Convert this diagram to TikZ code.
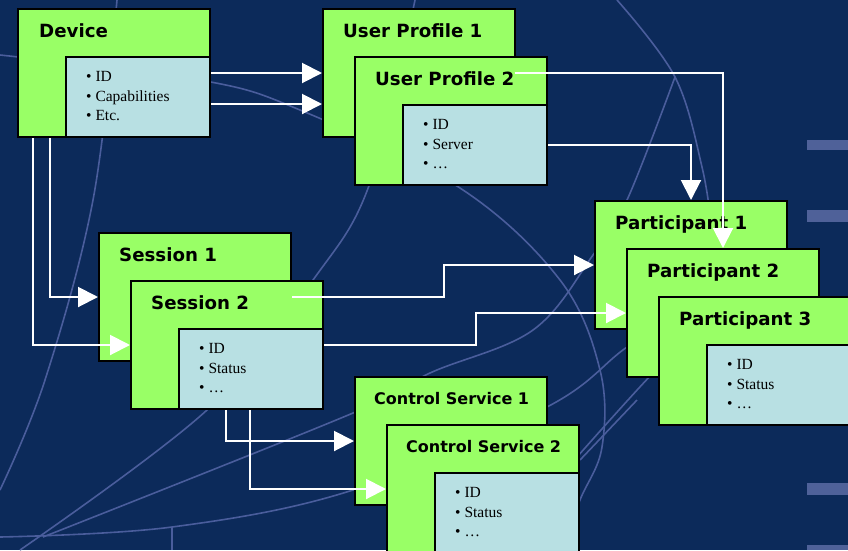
\documentclass[tikz,border=0pt]{standalone}
\usepackage{fontspec}
\setmainfont{Liberation Serif}
\setsansfont{DejaVu Sans}
\usetikzlibrary{positioning,arrows.meta}

\definecolor{navy}{HTML}{0C2A5A}
\definecolor{boxgreen}{HTML}{99FF66}
\definecolor{boxblue}{HTML}{B8E0E3}
\definecolor{faint}{HTML}{4A5D9C}
\definecolor{logo}{HTML}{4F6199}

\begin{document}
\begin{tikzpicture}[x=1pt,y=-1pt,
  entity/.style={draw=black,line width=2pt,fill=boxgreen,minimum width=192pt,
    minimum height=128pt,anchor=north west,inner sep=0pt},
  fields/.style={draw=black,line width=2pt,fill=boxblue,minimum width=144pt,
    minimum height=80pt,anchor=south east,inner sep=0pt},
  title/.style={anchor=base west,inner sep=0pt,
    font=\sffamily\bfseries\fontsize{18.2}{20}\selectfont},
  small title/.style={title,font=\sffamily\bfseries\fontsize{16}{20}\selectfont},
  items/.style={anchor=north west,inner sep=0pt,align=left,
    font=\fontsize{15.5}{19.7}\selectfont},
  link/.style={draw=white,line width=2pt,-{Triangle[length=20pt,width=20pt]}},
  deco/.style={draw=faint,line width=1.6pt}]
\useasboundingbox (0,0) rectangle (848,550);
\fill[navy] (0,0) rectangle (848,550);

% background
\draw[deco] plot[smooth,tension=0.6] coordinates
  {(0,55) (200,80) (300,110) (460,188) (560,280) (600,370) (602,447) (580,500) (562,550)};
\draw[deco] plot[smooth,tension=0.6] coordinates
  {(617,0) (675,77) (702,167) (712,230)};
\draw[deco] plot[smooth,tension=0.6] coordinates
  {(0,490) (45,380) (93,200) (117,0)};
\draw[deco] plot[smooth,tension=0.6] coordinates
  {(20,550) (207,410) (313,280) (370,183) (415,0)};
\draw[deco] plot[smooth,tension=0.6] coordinates
  {(43,537) (353,413) (430,373) (533,330) (593,255) (627,200) (675,77)};
\draw[deco] plot[smooth,tension=0.6] coordinates
  {(0,537) (172,527) (353,490) (547,407) (627,347) (700,300)};
\draw[deco] (172,527) -- (172,550);
\draw[deco] plot[smooth,tension=0.6] coordinates
  {(577,457) (653,373) (700,330)};
\draw[deco] (637,400) -- (580,460);
\fill[logo] (807,140) rectangle (848,150);
\fill[logo] (807,210) rectangle (848,222);
\fill[logo] (807,483) rectangle (848,495);
\fill[logo] (807,545) rectangle (848,550);

% boxes
\node[entity] (dev) at (17,8) {};
\node[fields] (dev_f) at (dev.south east) {};
\node[title] (dev_t) at ([xshift=22pt,yshift=-29pt]dev.north west) {Device};
\node[items] (dev_l) at ([xshift=21pt,yshift=-15pt]dev_f.north west)
  {• ID\\• Capabilities\\• Etc.};

\node[entity] (up_1) at (322,8) {};
\node[title] (up_1_t) at ([xshift=21pt,yshift=-29pt]up_1.north west) {User Profile 1};
\node[entity] (up_2) at ([xshift=32pt,yshift=-48pt]up_1.north west) {};
\node[fields] (up_2_f) at (up_2.south east) {};
\node[title] (up_2_t) at ([xshift=21pt,yshift=-29pt]up_2.north west) {User Profile 2};
\node[items] (up_2_l) at ([xshift=21pt,yshift=-15pt]up_2_f.north west)
  {• ID\\• Server\\• …};

\node[entity] (ses_1) at (98,232) {};
\node[title] (ses_1_t) at ([xshift=21pt,yshift=-29pt]ses_1.north west) {Session 1};
\node[entity] (ses_2) at ([xshift=32pt,yshift=-48pt]ses_1.north west) {};
\node[fields] (ses_2_f) at (ses_2.south east) {};
\node[title] (ses_2_t) at ([xshift=21pt,yshift=-29pt]ses_2.north west) {Session 2};
\node[items] (ses_2_l) at ([xshift=21pt,yshift=-15pt]ses_2_f.north west)
  {• ID\\• Status\\• …};

\node[entity] (cs_1) at (354,376) {};
\node[small title] (cs_1_t) at ([xshift=20pt,yshift=-28pt]cs_1.north west) {Control Service 1};
\node[entity] (cs_2) at ([xshift=32pt,yshift=-48pt]cs_1.north west) {};
\node[fields] (cs_2_f) at (cs_2.south east) {};
\node[small title] (cs_2_t) at ([xshift=20pt,yshift=-28pt]cs_2.north west) {Control Service 2};
\node[items] (cs_2_l) at ([xshift=21pt,yshift=-15pt]cs_2_f.north west)
  {• ID\\• Status\\• …};

\node[entity] (p_1) at (594,200) {};
\node[title] (p_1_t) at ([xshift=21pt,yshift=-29pt]p_1.north west) {Participant 1};
\node[entity] (p_2) at ([xshift=32pt,yshift=-48pt]p_1.north west) {};
\node[title] (p_2_t) at ([xshift=21pt,yshift=-29pt]p_2.north west) {Participant 2};
\node[entity] (p_3) at ([xshift=32pt,yshift=-48pt]p_2.north west) {};
\node[fields] (p_3_f) at (p_3.south east) {};
\node[title] (p_3_t) at ([xshift=21pt,yshift=-29pt]p_3.north west) {Participant 3};
\node[items] (p_3_l) at ([xshift=21pt,yshift=-15pt]p_3_f.north west)
  {• ID\\• Status\\• …};

% links
\draw[link] (dev_f.east |- up_1.west) -- (up_1.west);
\draw[link] (dev_f.east |- up_2_f.north) -- (up_1.west |- up_2_f.north);
\draw[link] (up_2_t.east |- up_1.west) -| (p_2.north);
\draw[link] (up_2_f.east) -| (p_1.north);
\draw[link] ([xshift=33pt]dev.south west) |- (ses_1.west);
\draw[link] ([xshift=16pt]dev.south west) |- (ses_2.west);
\draw[link] (ses_1.east) -- ++(152,0) |- (p_1.west);
\draw[link] (ses_2.east) -- ++(152,0) |- (p_2.west);
\draw[link] ([xshift=48pt]ses_2_f.south west) |- (cs_1.west);
\draw[link] ([xshift=72pt]ses_2_f.south west) |- (cs_2.west);
\end{tikzpicture}
\end{document}
